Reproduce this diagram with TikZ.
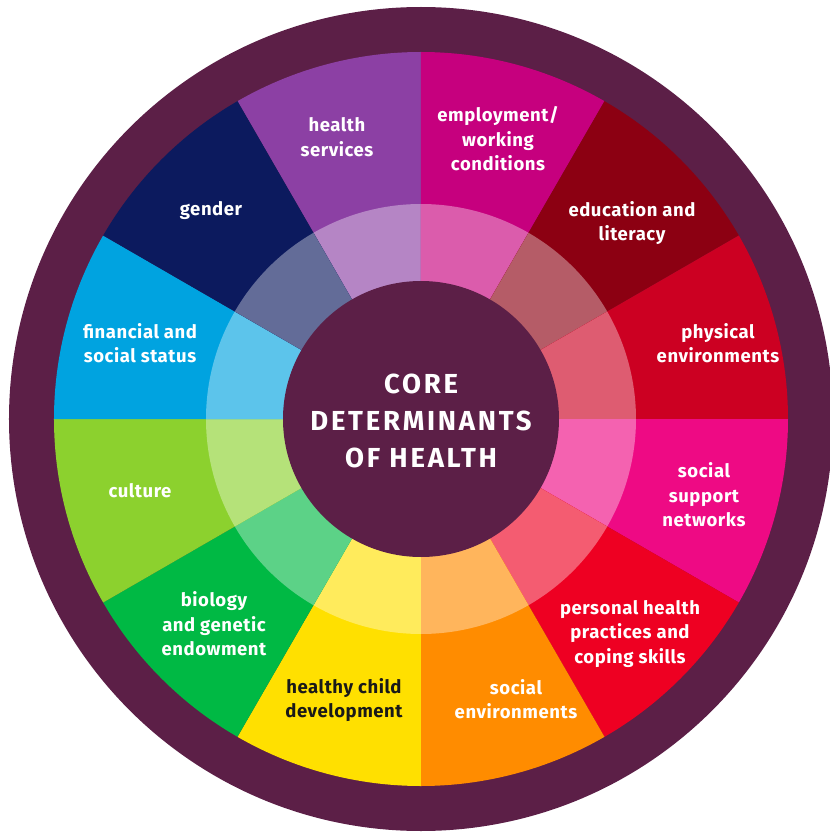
\documentclass[tikz,border=0pt]{standalone}
\usepackage{fontspec}
\setmainfont{Fira Sans}
\newfontfamily\labelfont[LetterSpace=3]{Fira Sans}
\newfontfamily\corefont[LetterSpace=10]{Fira Sans}
\definecolor{dark}{HTML}{5C1F47}
\definecolor{cHS}{HTML}{8C40A4}
\definecolor{cEM}{HTML}{C6007E}
\definecolor{cED}{HTML}{8C0012}
\definecolor{cPE}{HTML}{CC0022}
\definecolor{cSS}{HTML}{EE0A84}
\definecolor{cPH}{HTML}{EE0022}
\definecolor{cSE}{HTML}{FF8C00}
\definecolor{cHC}{HTML}{FFE000}
\definecolor{cBI}{HTML}{00B944}
\definecolor{cCU}{HTML}{8CD12E}
\definecolor{cFI}{HTML}{00A3E0}
\definecolor{cGE}{HTML}{0C1A5E}
\newcommand{\seg}[2]{%
  \fill[#2] (0,0) -- (#1:367) arc[start angle=#1, end angle=#1+30, radius=367] -- cycle;
  \fill[#2!64!white] (0,0) -- (#1:215) arc[start angle=#1, end angle=#1+30, radius=215] -- cycle;}
\begin{document}
\begin{tikzpicture}[x=1pt,y=1pt,
  lbl/.style={text=white,font=\labelfont\fontsize{18.5}{24.5}\selectfont\bfseries,align=center,inner sep=0pt},
  core/.style={text=white,font=\corefont\fontsize{27.5}{37}\selectfont\bfseries,align=center,inner sep=0pt}]
\useasboundingbox (-421,-414) rectangle (409,419);
\fill[dark] (0,0) circle[radius=412];
\seg{90}{cHS}
\seg{60}{cEM}
\seg{30}{cED}
\seg{0}{cPE}
\seg{-30}{cSS}
\seg{-60}{cPH}
\seg{-90}{cSE}
\seg{-120}{cHC}
\seg{-150}{cBI}
\seg{180}{cCU}
\seg{150}{cFI}
\seg{120}{cGE}
\fill[dark] (0,0) circle[radius=138];
\node[core] (core) at (0,-2) {CORE\\DETERMINANTS\\OF HEALTH};
\node[lbl] (hs) at (-84,282) {health\\services};
\node[lbl] (em) at (77,280) {employment/\\working\\conditions};
\node[lbl] (ed) at (211,196) {education and\\literacy};
\node[lbl] (pe) at (297,76) {physical\\environments};
\node[lbl] (ss) at (283,-76) {social\\support\\networks};
\node[lbl] (ph) at (209,-215) {personal health\\practices and\\coping skills};
\node[lbl] (se) at (95,-280) {social\\environments};
\node[lbl,text=black!90] (hc) at (-77,-281) {healthy child\\development};
\node[lbl] (bi) at (-207,-205) {biology\\and genetic\\endowment};
\node[lbl] (cu) at (-281,-72) {culture};
\node[lbl] (fi) at (-281,76) {financial and\\social status};
\node[lbl] (ge) at (-210,208) {gender};
\end{tikzpicture}
\end{document}
